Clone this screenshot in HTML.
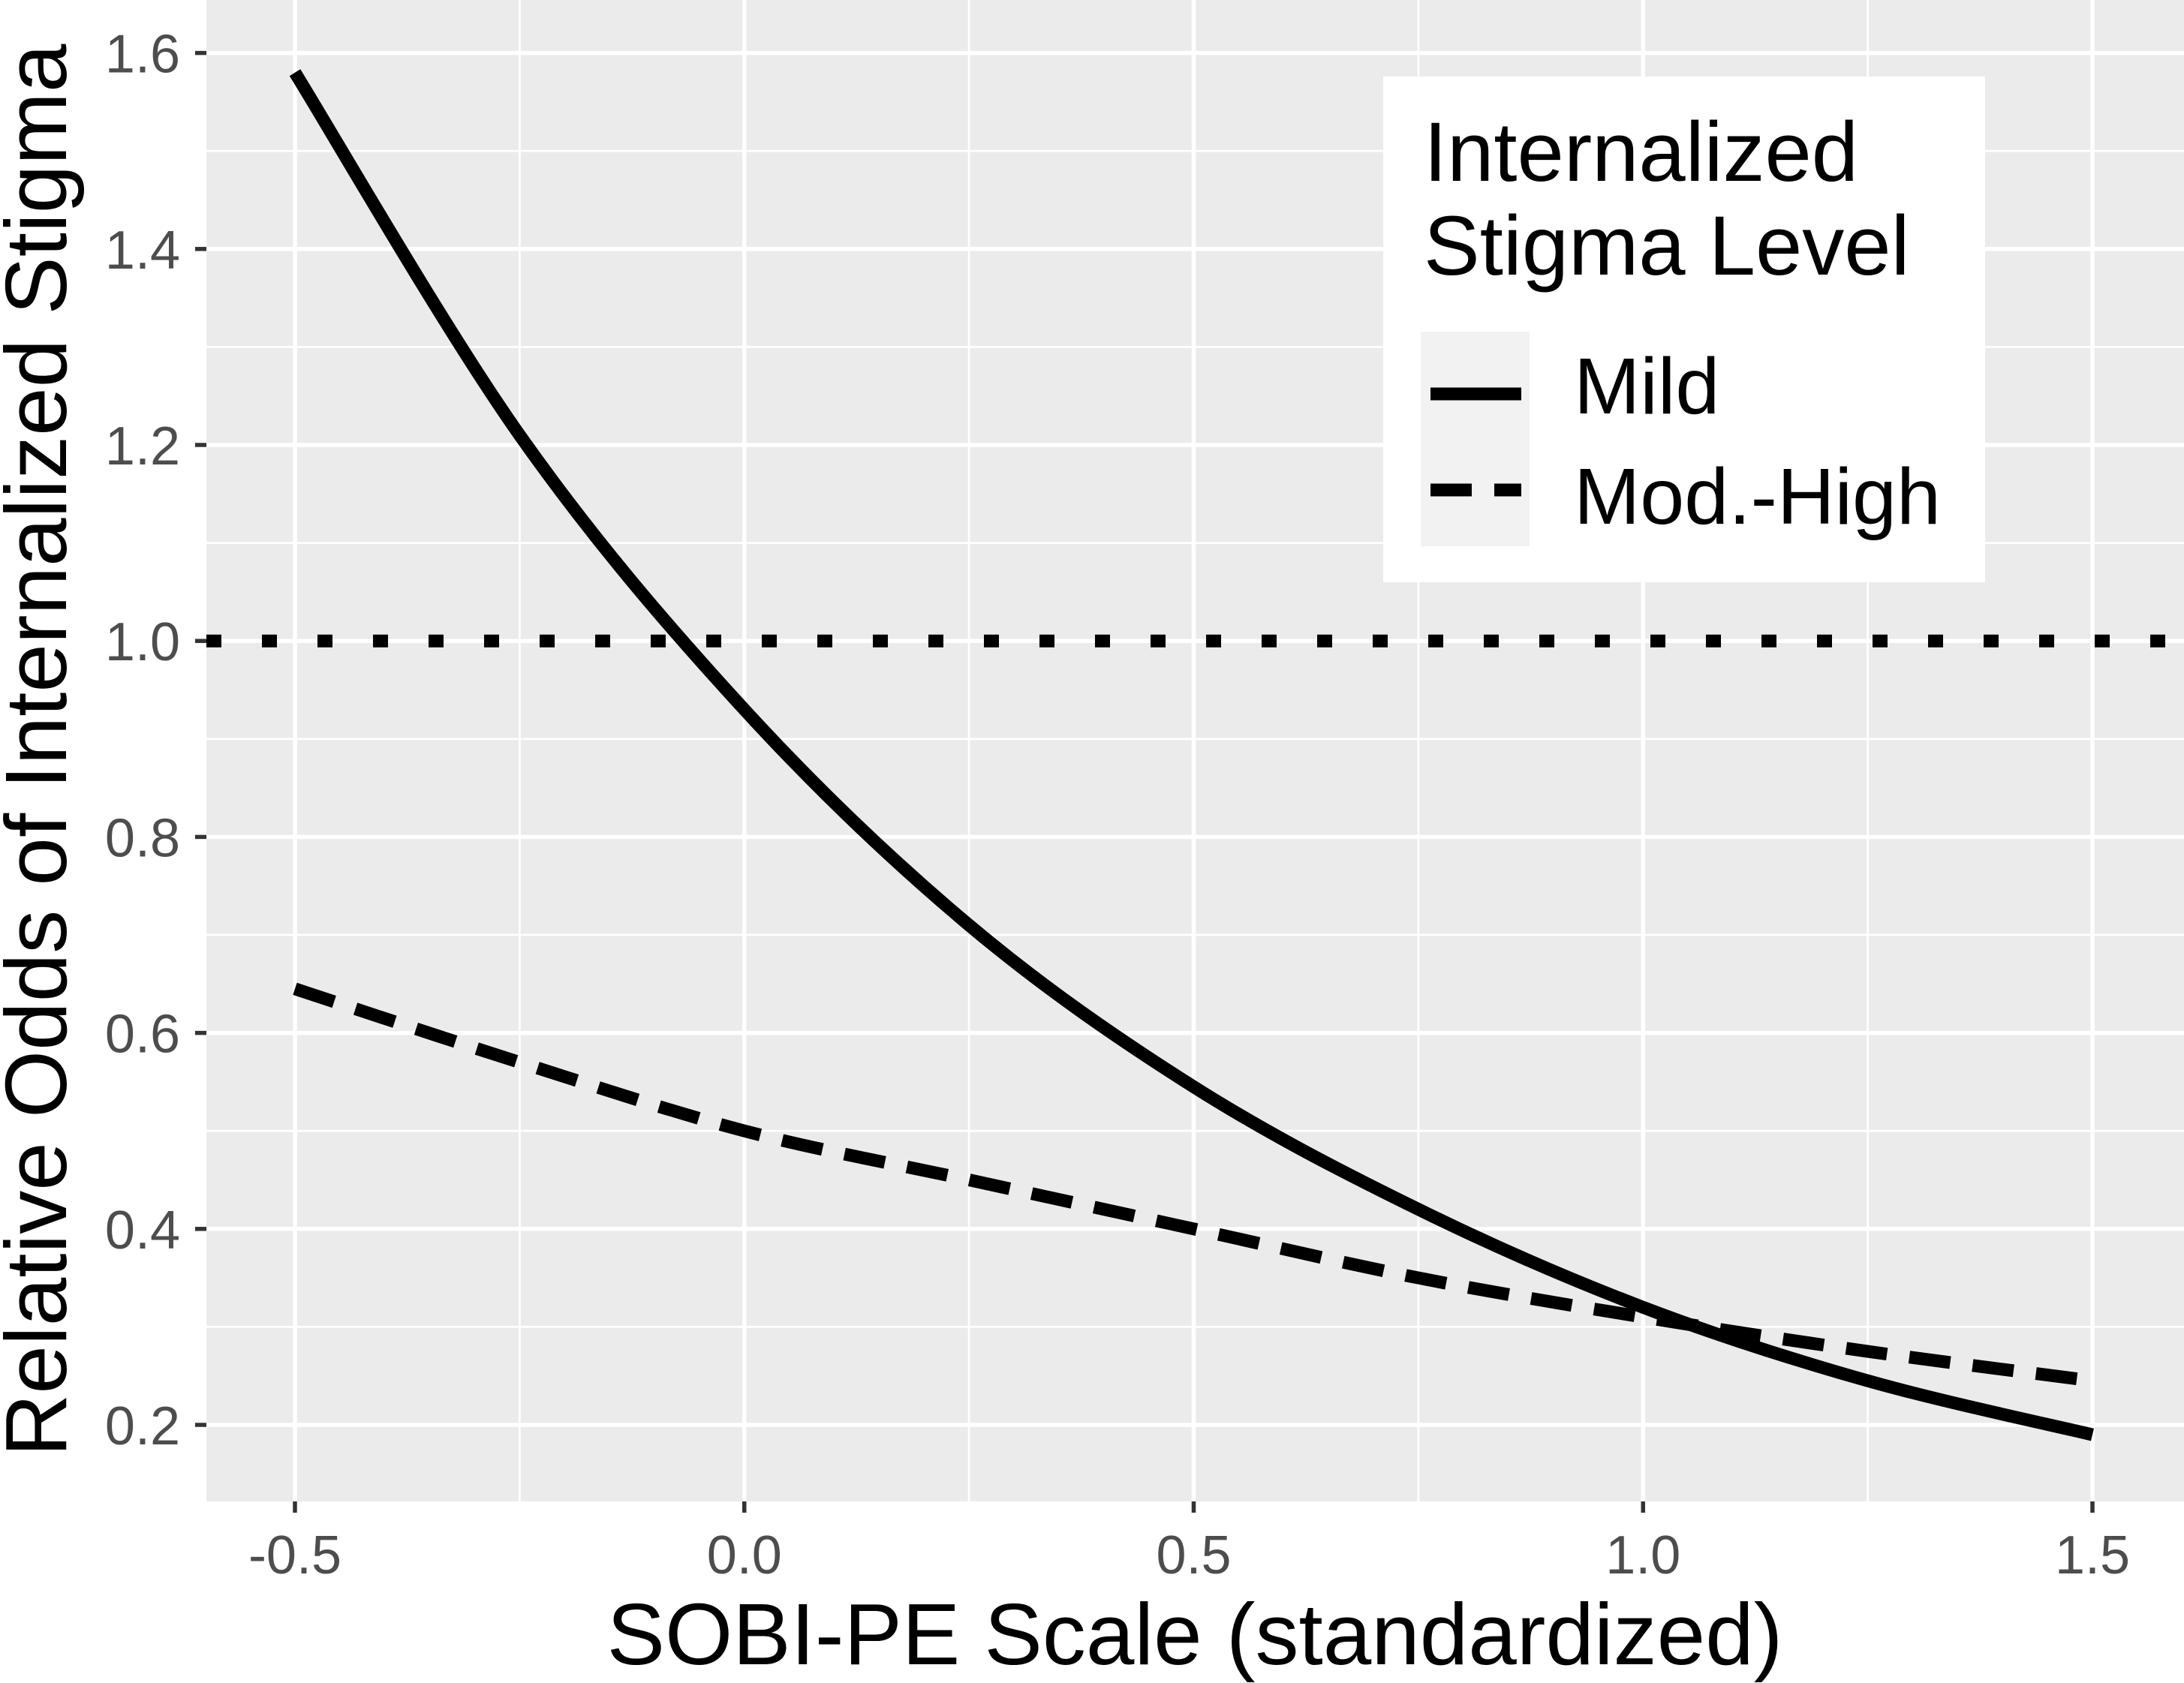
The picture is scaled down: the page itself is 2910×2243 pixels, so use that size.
<!DOCTYPE html>
<html><head><meta charset="utf-8"><style>
html,body{margin:0;padding:0;background:#fff;}
svg{display:block;font-family:"Liberation Sans",Arial,sans-serif;}
</style></head><body>
<svg id="chart" width="2910" height="2243" viewBox="0 0 2910 2243" xmlns="http://www.w3.org/2000/svg">
<rect x="275" y="0" width="2635" height="2001" fill="#ebebeb"/>
<g id="grid"></g>
<g id="series"></g>
<g id="axes"></g>
<g>
<rect x="1843" y="102" width="802" height="674" fill="#fff"/>
<text x="1897" y="241" font-size="112" fill="#000">Internalized</text>
<text x="1897" y="366" font-size="112" fill="#000">Stigma Level</text>
<rect x="1893" y="442" width="145" height="286" fill="#f2f2f2"/>
<line x1="1906" y1="525" x2="2027" y2="525" stroke="#000" stroke-width="17"/>
<line x1="1906" y1="653" x2="2027" y2="653" stroke="#000" stroke-width="17" stroke-dasharray="55,30"/>
<text x="2097" y="551" font-size="106" fill="#000">Mild</text>
<text x="2097" y="698" font-size="106" fill="#000">Mod.-High</text>
</g>
<text x="1592" y="2218" font-size="116" text-anchor="middle" fill="#000">SOBI-PE Scale (standardized)</text>
<text transform="translate(88,1000) rotate(-90)" font-size="116" text-anchor="middle" fill="#000">Relative Odds of Internalized Stigma</text>
</svg>
<script>
const xValues = [-0.5, -0.25, 0, 0.25, 0.5, 0.75, 1.0, 1.25, 1.5];
const mildValues = [1.58, 1.21, 0.93, 0.71, 0.545, 0.42, 0.32, 0.245, 0.19];
const modHighValues = [0.645, 0.57, 0.50, 0.45, 0.40, 0.35, 0.31, 0.275, 0.245];
const refValue = [1.0];
const xTicks = [-0.5, 0, 0.5, 1.0, 1.5];
const xTickLabels = ["-0.5", "0.0", "0.5", "1.0", "1.5"];
const yTicks = [0.2, 0.4, 0.6, 0.8, 1.0, 1.2, 1.4, 1.6];
const yTickLabels = ["0.2", "0.4", "0.6", "0.8", "1.0", "1.2", "1.4", "1.6"];

const NS = "http://www.w3.org/2000/svg";
const PL = 275, PR = 2910, PT = 0, PB = 2001;
function sx(v){ return 393 + (v + 0.5) * 1197.5; }
function sy(v){ return 1899 - (v - 0.2) * 1306; }
function mk(tag, attrs, parent){
  const e = document.createElementNS(NS, tag);
  for (const k in attrs) e.setAttribute(k, attrs[k]);
  parent.appendChild(e);
  return e;
}
const grid = document.getElementById('grid');
const axes = document.getElementById('axes');
const series = document.getElementById('series');

for (let i = 0; i < xTicks.length - 1; i++) {
  const m = (xTicks[i] + xTicks[i+1]) / 2;
  const l = mk('line', {x1: sx(m), x2: sx(m), y1: PT, y2: PB, stroke: '#fff', 'stroke-width': 2.7}, grid);
  
  
}
for (let i = 0; i < yTicks.length - 1; i++) {
  const m = (yTicks[i] + yTicks[i+1]) / 2;
  const l = mk('line', {x1: PL, x2: PR, y1: sy(m), y2: sy(m), stroke: '#fff', 'stroke-width': 2.7}, grid);
  
  
}
xTicks.forEach((t, i) => {
  const l = mk('line', {x1: sx(t), x2: sx(t), y1: PT, y2: PB, stroke: '#fff', 'stroke-width': 5.5}, grid);
  
  
  const tk = mk('line', {x1: sx(t), x2: sx(t), y1: PB, y2: PB + 15, stroke: '#333', 'stroke-width': 5.5}, axes);
  
  
  const tx = mk('text', {x: sx(t), y: 2097, 'font-size': 72, 'text-anchor': 'middle', fill: '#4d4d4d'}, axes);
  tx.textContent = xTickLabels[i];
  
  
});
yTicks.forEach((t, i) => {
  const l = mk('line', {x1: PL, x2: PR, y1: sy(t), y2: sy(t), stroke: '#fff', 'stroke-width': 5.5}, grid);
  
  
  const tk = mk('line', {x1: PL - 15, x2: PL, y1: sy(t), y2: sy(t), stroke: '#333', 'stroke-width': 5.5}, axes);
  
  
  const tx = mk('text', {x: 240, y: sy(t) + 26, 'font-size': 72, 'text-anchor': 'end', fill: '#4d4d4d'}, axes);
  tx.textContent = yTickLabels[i];
  
  
});

function smoothPath(xs, ys){
  const p = xs.map((x, i) => [sx(x), sy(ys[i])]);
  let d = 'M' + p[0][0] + ',' + p[0][1];
  for (let i = 0; i < p.length - 1; i++) {
    const p0 = p[Math.max(0, i-1)], p1 = p[i], p2 = p[i+1], p3 = p[Math.min(p.length-1, i+2)];
    const c1 = [p1[0] + (p2[0]-p0[0])/6, p1[1] + (p2[1]-p0[1])/6];
    const c2 = [p2[0] - (p3[0]-p1[0])/6, p2[1] - (p3[1]-p1[1])/6];
    d += ' C' + c1[0] + ',' + c1[1] + ' ' + c2[0] + ',' + c2[1] + ' ' + p2[0] + ',' + p2[1];
  }
  return d;
}
const ref = mk('line', {x1: PL, x2: PR, y1: sy(refValue[0]), y2: sy(refValue[0]), stroke: '#000', 'stroke-width': 17, 'stroke-dasharray': '20,54'}, series);


const mild = mk('path', {d: smoothPath(xValues, mildValues), fill: 'none', stroke: '#000', 'stroke-width': 17}, series);


const mh = mk('path', {d: smoothPath(xValues, modHighValues), fill: 'none', stroke: '#000', 'stroke-width': 17, 'stroke-dasharray': '55,30'}, series);


</script>
</body></html>
